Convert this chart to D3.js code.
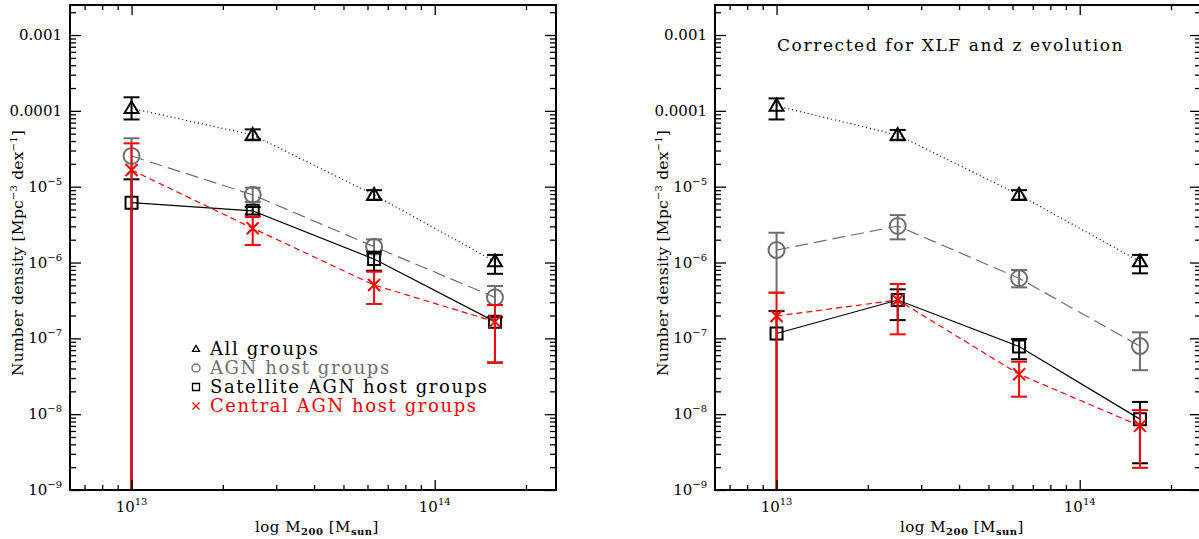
<!DOCTYPE html>
<html><head><meta charset="utf-8">
<script src="https://cdn.jsdelivr.net/npm/d3@7"></script>
<style>
body{margin:0;background:#fff;}
svg text{font-family:"DejaVu Serif",serif;fill:#000;}
</style></head><body><svg width="1199" height="539"></svg>
<script>
// halo mass bins (M_sun)
var mass = [1.0e13, 2.51e13, 6.31e13, 1.58e14];

// left panel: raw number densities, lower/upper error ends (0 = down to zero)
var allN = [1.08e-4, 4.8e-5, 7.8e-6, 1.03e-6];
var allLo = [7.7e-5, 4.1e-5, 6.7e-6, 7.1e-7];
var allHi = [1.51e-4, 5.7e-5, 9.0e-6, 1.26e-6];
var agnN = [2.54e-5, 7.8e-6, 1.62e-6, 3.47e-7];
var agnLo = [0, 6.3e-6, 1.29e-6, 2.75e-7];
var agnHi = [4.35e-5, 9.7e-6, 2.02e-6, 4.9e-7];
var satN = [6.15e-6, 4.8e-6, 1.11e-6, 1.66e-7];
var satLo = [0, 4.3e-6, 7.8e-7, 4.8e-8];
var satHi = [1.25e-5, 5.4e-6, 1.39e-6, 1.9e-7];
var cenN = [1.66e-5, 2.83e-6, 5.05e-7, 1.66e-7];
var cenLo = [0, 1.70e-6, 2.84e-7, 4.76e-8];
var cenHi = [3.73e-5, 4.02e-6, 7.57e-7, 2.75e-7];

// right panel: corrected for XLF and z evolution
var allC = [1.16e-4, 4.8e-5, 7.8e-6, 1.03e-6];
var allCLo = [7.7e-5, 4.1e-5, 6.7e-6, 7.2e-7];
var allCHi = [1.46e-4, 5.6e-5, 9.0e-6, 1.26e-6];
var agnC = [1.46e-6, 3.03e-6, 6.2e-7, 7.9e-8];
var agnCLo = [4.0e-7, 2.02e-6, 4.7e-7, 3.8e-8];
var agnCHi = [2.47e-6, 4.22e-6, 7.96e-7, 1.2e-7];
var satC = [1.16e-7, 3.2e-7, 7.8e-8, 8.6e-9];
var satCLo = [0, 1.74e-7, 5.3e-8, 2.25e-9];
var satCHi = [2.29e-7, 4.43e-7, 9.8e-8, 1.45e-8];
var cenC = [1.97e-7, 3.2e-7, 3.36e-8, 7.0e-9];
var cenCLo = [0, 1.13e-7, 1.70e-8, 1.96e-9];
var cenCHi = [4.0e-7, 5.2e-7, 4.92e-8, 1.13e-8];

var legendLabels = ["All groups", "AGN host groups", "Satellite AGN host groups", "Central AGN host groups"];
var yMajor = [1e-3, 1e-4, 1e-5, 1e-6, 1e-7, 1e-8, 1e-9];
var yLabels = [["0.001"], ["0.0001"], ["10", "\u22125"], ["10", "\u22126"], ["10", "\u22127"], ["10", "\u22128"], ["10", "\u22129"]];
var xMajor = [1e13, 1e14];
var xLabels = [["10", "13"], ["10", "14"]];
var title = "Corrected for XLF and z evolution";

var gray = "#6e6e6e";
var svg = d3.select("svg");
var top0 = 5, bottom0 = 490, pw = 486;

var styles = [
	{color: "#000", dash: "1,3", marker: "tri"},
	{color: gray, dash: "13,6", marker: "circ"},
	{color: "#000", dash: null, marker: "sq"},
	{color: "#f00", dash: "6,4", marker: "x"}
];

function markerPath(type, s) {
	if (type == "tri") { var h = s*0.85; return "M0," + (-h*0.6) + "L" + (s/2) + "," + (h*0.4) + "L" + (-s/2) + "," + (h*0.4) + "Z"; }
	if (type == "sq") return "M" + (-s/2) + "," + (-s/2) + "h" + s + "v" + s + "h" + (-s) + "Z";
	if (type == "x") return "M" + (-s/2) + "," + (-s/2) + "L" + (s/2) + "," + (s/2) + "M" + (s/2) + "," + (-s/2) + "L" + (-s/2) + "," + (s/2);
	return d3.arc()({innerRadius: 0, outerRadius: s/2, startAngle: 0, endAngle: 2*Math.PI});
}

function minorTicks(lo, hi) {
	var t = [];
	for (var e = Math.floor(Math.log10(lo)); e <= Math.ceil(Math.log10(hi)); e++)
		for (var m = 1; m < 10; m++) {
			var v = m*Math.pow(10, e);
			if (v >= lo && v <= hi) t.push(v);
		}
	return t;
}

function drawPanel(x0, series, id, withLegend, withTitle) {
	var x = d3.scaleLog().domain([Math.pow(10, 12.797), Math.pow(10, 14.4)]).range([x0, x0 + pw]);
	var y = d3.scaleLog().domain([1e-9, Math.pow(10, -2.604)]).range([bottom0, top0]);
	var g = svg.append("g");

	svg.append("clipPath").attr("id", id).append("rect")
		.attr("x", x0).attr("y", top0).attr("width", pw).attr("height", bottom0 - top0);
	var plot = g.append("g").attr("clip-path", "url(#" + id + ")");

	series.forEach(function(s, k) {
		var st = styles[k];
		var pts = mass.map(function(m, i) { return {x: x(m), y: y(s.v[i]), lo: s.lo[i], hi: s.hi[i]}; });
		plot.append("path")
			.attr("d", d3.line().x(function(d) { return d.x; }).y(function(d) { return d.y; })(pts))
			.attr("fill", "none").attr("stroke", st.color).attr("stroke-width", 1.2)
			.attr("stroke-dasharray", st.dash);
		pts.forEach(function(p) {
			var yl = p.lo > 0 ? y(p.lo) : bottom0 + 5;
			plot.append("line").attr("x1", p.x).attr("x2", p.x).attr("y1", y(p.hi)).attr("y2", yl)
				.attr("stroke", st.color).attr("stroke-width", 2);
			plot.append("line").attr("x1", p.x - 8).attr("x2", p.x + 8).attr("y1", y(p.hi)).attr("y2", y(p.hi))
				.attr("stroke", st.color).attr("stroke-width", 2);
			if (p.lo > 0)
				plot.append("line").attr("x1", p.x - 8).attr("x2", p.x + 8).attr("y1", yl).attr("y2", yl)
					.attr("stroke", st.color).attr("stroke-width", 2);
			var size = st.marker == "circ" ? 16 : (st.marker == "tri" ? 14 : 12);
			plot.append("path").attr("d", markerPath(st.marker, size))
				.attr("transform", "translate(" + p.x + "," + p.y + ")")
				.attr("fill", "none").attr("stroke", st.color).attr("stroke-width", 2);
		});
	});

	// axes: ticks inward on all four sides
	var xMinor = minorTicks(x.domain()[0], x.domain()[1]).filter(function(v) { return xMajor.indexOf(v) < 0; });
	var yMinor = minorTicks(y.domain()[0], y.domain()[1]).filter(function(v) { return yMajor.indexOf(v) < 0; });
	function ax(gen, scale, vals, len, tr) {
		g.append("g").attr("transform", tr)
			.call(gen(scale).tickValues(vals).tickSize(-len).tickFormat(""))
			.call(function(a) { a.select(".domain").remove(); a.selectAll("line").attr("stroke-width", 1.3); });
	}
	ax(d3.axisBottom, x, xMinor, 5, "translate(0," + bottom0 + ")");
	ax(d3.axisBottom, x, xMajor, 10, "translate(0," + bottom0 + ")");
	ax(d3.axisTop, x, xMinor, 5, "translate(0," + top0 + ")");
	ax(d3.axisTop, x, xMajor, 10, "translate(0," + top0 + ")");
	ax(d3.axisLeft, y, yMinor, 6, "translate(" + x0 + ",0)");
	ax(d3.axisLeft, y, yMajor, 11, "translate(" + x0 + ",0)");
	ax(d3.axisRight, y, yMinor, 6, "translate(" + (x0 + pw) + ",0)");
	ax(d3.axisRight, y, yMajor, 11, "translate(" + (x0 + pw) + ",0)");

	g.append("rect").attr("x", x0).attr("y", top0).attr("width", pw).attr("height", bottom0 - top0)
		.attr("fill", "none").attr("stroke", "#000").attr("stroke-width", 2);

	yMajor.forEach(function(v, i) {
		var t = g.append("text").attr("x", x0 - 8).attr("y", y(v) + 5).attr("text-anchor", "end").style("font-size", "15px");
		t.append("tspan").text(yLabels[i][0]);
		if (yLabels[i][1]) t.append("tspan").attr("dy", -7).style("font-size", "10px").text(yLabels[i][1]);
	});
	xMajor.forEach(function(v, i) {
		var t = g.append("text").attr("x", x(v)).attr("y", 512).attr("text-anchor", "middle").style("font-size", "15px");
		t.append("tspan").text(xLabels[i][0]);
		t.append("tspan").attr("dy", -7).style("font-size", "10px").text(xLabels[i][1]);
	});

	var xl = g.append("text").attr("x", x0 + pw/2 + 4).attr("y", 532).attr("text-anchor", "middle")
		.style("font-size", "15px").style("letter-spacing", "0.5px");
	xl.append("tspan").text("log M");
	xl.append("tspan").attr("dy", 3).style("font-size", "10px").style("font-weight", "bold").text("200");
	xl.append("tspan").attr("dy", -3).text(" [M");
	xl.append("tspan").attr("dy", 3).style("font-size", "10px").style("font-weight", "bold").text("sun");
	xl.append("tspan").attr("dy", -3).text("]");

	var yl = g.append("text").attr("transform", "translate(" + (x0 - 47) + ",253) rotate(-90)")
		.attr("text-anchor", "middle").style("font-size", "15.5px").style("letter-spacing", "0.2px");
	yl.append("tspan").text("Number density [Mpc");
	yl.append("tspan").attr("dy", -6).style("font-size", "10px").text("\u22123");
	yl.append("tspan").attr("dy", 6).text(" dex");
	yl.append("tspan").attr("dy", -6).style("font-size", "10px").text("\u22121");
	yl.append("tspan").attr("dy", 6).text("]");

	if (withTitle)
		g.append("text").attr("x", x0 + 62).attr("y", 51).style("font-size", "17px")
			.style("letter-spacing", "1.6px").text(title);

	if (withLegend) {
		legendLabels.forEach(function(l, k) {
			var st = styles[k], cy = 349 + k*19;
			var size = st.marker == "circ" ? 8 : 7;
			g.append("path").attr("d", markerPath(st.marker, size))
				.attr("transform", "translate(" + (x0 + 126) + "," + cy + ")")
				.attr("fill", "none").attr("stroke", st.color).attr("stroke-width", 1.3);
			g.append("text").attr("x", x0 + 140).attr("y", cy + 6).style("font-size", "18px")
				.style("letter-spacing", "1.6px").style("fill", st.color).text(l);
		});
	}
}

drawPanel(70, [
	{v: allN, lo: allLo, hi: allHi},
	{v: agnN, lo: agnLo, hi: agnHi},
	{v: satN, lo: satLo, hi: satHi},
	{v: cenN, lo: cenLo, hi: cenHi}
], "clipL", true, false);

drawPanel(715, [
	{v: allC, lo: allCLo, hi: allCHi},
	{v: agnC, lo: agnCLo, hi: agnCHi},
	{v: satC, lo: satCLo, hi: satCHi},
	{v: cenC, lo: cenCLo, hi: cenCHi}
], "clipR", false, true);
</script></body></html>
